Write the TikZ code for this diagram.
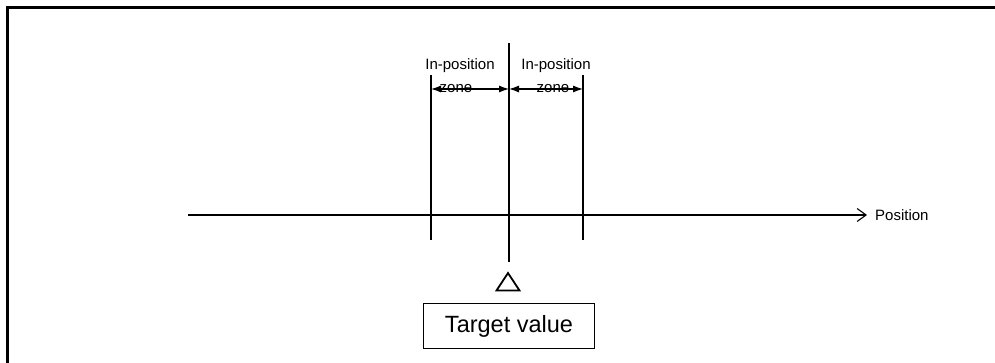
\documentclass[tikz,border=0pt]{standalone}
\usepackage{fontspec}
\setmainfont{Liberation Sans}
\usepackage{tikz}
\usetikzlibrary{positioning,arrows.meta}

\tikzset{
  zonelabel/.style={inner sep=0pt,font=\fontsize{15}{16}\selectfont},
  zonearrow/.style={{Latex[length=10pt,width=7pt]}-{Latex[length=10pt,width=7pt]}, line width=1.1pt},
  targetbox/.style={draw, line width=1.8pt, minimum width=171pt, minimum height=45pt, inner sep=0pt, font=\fontsize{23.5}{25}\selectfont}
}

\begin{document}
\begin{tikzpicture}[x=1pt,y=-1pt]
\useasboundingbox (0,0) rectangle (995,363);
% frame
\draw [line width=3pt] (7,363) -- (7,8) -- (995,8);
% axis
\coordinate (ax0) at (188,215);
\coordinate (ax1) at (867,215);
\draw [-{Straight Barb[length=9pt,width=13pt]}, line width=1.1pt] (ax0) -- (ax1);
\node [zonelabel, right=8pt of ax1] (pos) {Position};
% target and in-position zone lines
\coordinate (ctop) at (509,43);
\coordinate (cbot) at (509,262);
\draw [line width=1.1pt] (ctop) -- (cbot);
\foreach\name/\x in {l/431,r/583}
{
  \coordinate (\name top) at (\x,75);
  \coordinate (\name bot) at (\x,240);
  \draw [line width=1.1pt] (\name top) -- (\name bot);
}
\coordinate (cmid) at (509,89);
\coordinate (lmid) at (431,89);
\coordinate (rmid) at (583,89);
\draw [zonearrow] (lmid) -- (cmid);
\draw [zonearrow] (cmid) -- (rmid);
\foreach\name/\x/\z in {l/460/456,r/556/553}
{
  \node [zonelabel] (in\name) at (\x,66) {In-position};
  \node [zonelabel] (zone\name) at (\z,89) {zone};
}
% marker and box
\coordinate (tri) at (508,273);
\draw [line width=1.8pt, line join=miter] (tri) -- ++(11.5,17.5) -- ++(-23,0) -- cycle;
\node [targetbox] (target) at (509,326) {Target value};
\end{tikzpicture}
\end{document}
